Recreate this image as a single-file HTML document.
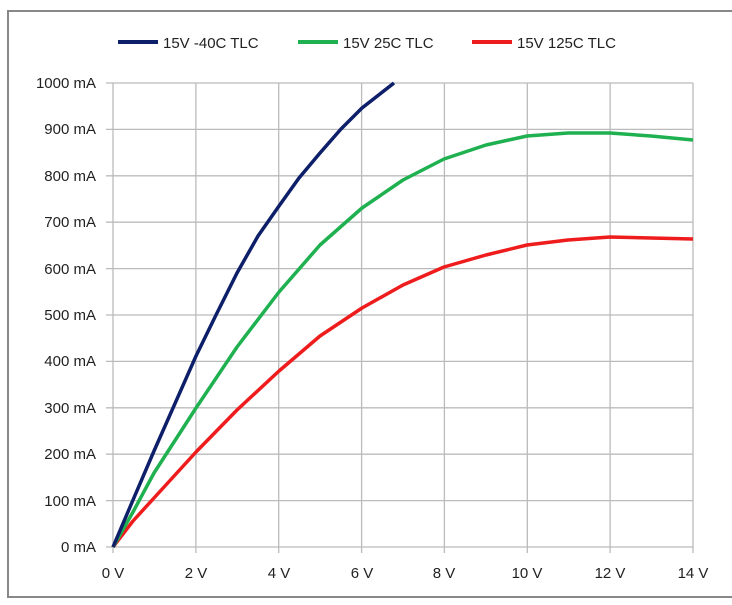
<!DOCTYPE html>
<html><head><style>
body{margin:0;background:#fff;width:732px;height:600px;overflow:hidden}
text{font-family:"Liberation Sans",sans-serif;font-size:15px;fill:#222}
</style></head><body>
<svg width="732" height="600" viewBox="0 0 732 600">
<rect x="8" y="11" width="726" height="586" fill="#fff" stroke="#888" stroke-width="2"/>
<g stroke="#bbb" stroke-width="1.3">
<line x1="106" y1="83" x2="693" y2="83"/><line x1="106" y1="129.4" x2="693" y2="129.4"/>
<line x1="106" y1="175.8" x2="693" y2="175.8"/><line x1="106" y1="222.2" x2="693" y2="222.2"/>
<line x1="106" y1="268.6" x2="693" y2="268.6"/><line x1="106" y1="315" x2="693" y2="315"/>
<line x1="106" y1="361.4" x2="693" y2="361.4"/><line x1="106" y1="407.8" x2="693" y2="407.8"/>
<line x1="106" y1="454.2" x2="693" y2="454.2"/><line x1="106" y1="500.6" x2="693" y2="500.6"/>
<line x1="106" y1="547" x2="693" y2="547"/>
<line x1="113" y1="83" x2="113" y2="553"/><line x1="195.9" y1="83" x2="195.9" y2="553"/>
<line x1="278.7" y1="83" x2="278.7" y2="553"/><line x1="361.6" y1="83" x2="361.6" y2="553"/>
<line x1="444.4" y1="83" x2="444.4" y2="553"/><line x1="527.3" y1="83" x2="527.3" y2="553"/>
<line x1="610.1" y1="83" x2="610.1" y2="553"/><line x1="693" y1="83" x2="693" y2="553"/>
</g>
<g text-anchor="end">
<text x="96" y="88">1000 mA</text><text x="96" y="134">900 mA</text><text x="96" y="181">800 mA</text>
<text x="96" y="227">700 mA</text><text x="96" y="274">600 mA</text><text x="96" y="320">500 mA</text>
<text x="96" y="366">400 mA</text><text x="96" y="413">300 mA</text><text x="96" y="459">200 mA</text>
<text x="96" y="506">100 mA</text><text x="96" y="552">0 mA</text>
</g>
<g text-anchor="middle">
<text x="113" y="578">0 V</text><text x="196" y="578">2 V</text><text x="279" y="578">4 V</text>
<text x="362" y="578">6 V</text><text x="444" y="578">8 V</text><text x="527" y="578">10 V</text>
<text x="610" y="578">12 V</text><text x="693" y="578">14 V</text>
</g>
<g fill="none" stroke-width="3.5" stroke-linejoin="round">
<path stroke="#ee1c1c" d="M113,547 L133,521 L154,498 L196,452 L237,410 L279,371 L320,336 L362,308 L403,285 L444,267 L486,255 L527,245 L568,240 L610,237 L651,238 L693,239"/>
<path stroke="#1fb050" d="M113,547 L133,512 L154,473 L196,408 L237,347 L279,292 L320,245 L362,208 L403,180 L444,159 L486,145 L527,136 L568,133 L610,133 L651,136 L693,140"/>
<path stroke="#0e1f6a" d="M113,547 L133,500 L154,451 L196,356 L216,315 L237,273 L258,236 L279,206 L299,178 L320,153 L341,129 L362,108 L394,83"/>
</g>
<line x1="118" y1="42" x2="158" y2="42" stroke="#0e1f6a" stroke-width="4"/>
<text x="163" y="48">15V -40C TLC</text>
<line x1="298" y1="42" x2="338" y2="42" stroke="#1fb050" stroke-width="4"/>
<text x="343" y="48">15V 25C TLC</text>
<line x1="472" y1="42" x2="512" y2="42" stroke="#ee1c1c" stroke-width="4"/>
<text x="517" y="48">15V 125C TLC</text>
</svg>
</body></html>
